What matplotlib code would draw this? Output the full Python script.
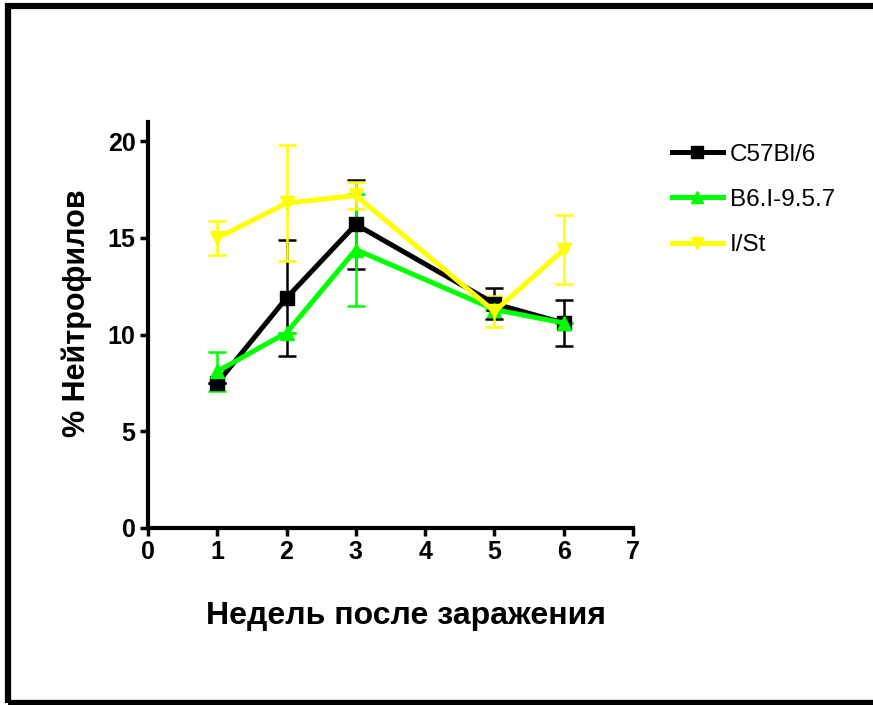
import matplotlib
matplotlib.use("Agg")
import matplotlib.pyplot as plt
from matplotlib.lines import Line2D
from matplotlib.patches import Rectangle

plt.rcParams['font.family'] = ['Liberation Sans', 'DejaVu Sans']

# weeks after infection
weeks = [1, 2, 3, 5, 6]

# % neutrophils, mean and error per strain
c57_mean = [7.5, 11.9, 15.7, 11.6, 10.6]
c57_err = [0.0, 3.0, 2.3, 0.8, 1.2]

b6_mean = [8.1, 10.1, 14.4, 11.3, 10.6]
b6_err = [1.0, 0.0, 2.9, 0.0, 0.0]

ist_mean = [15.0, 16.8, 17.2, 11.2, 14.4]
ist_err = [0.9, 3.0, 0.7, 0.8, 1.8]

labels = ['C57Bl/6', 'B6.I-9.5.7', 'I/St']
colors = ['black', '#00ff00', '#ffff00']
markers = ['s', '^', 'v']

xticks = [0, 1, 2, 3, 4, 5, 6, 7]
yticks = [0, 5, 10, 15, 20]

fig = plt.figure(figsize=(8.73, 7.05), dpi=100)
ax = fig.add_axes([0.1695, 0.2511, 0.5556, 0.5759])

series = [(c57_mean, c57_err), (b6_mean, b6_err), (ist_mean, ist_err)]
handles = []
for (m, e), lab, col, mk in zip(series, labels, colors, markers):
    ax.errorbar(weeks, m, yerr=e, color=col, lw=3.6, marker=mk, ms=10,
                elinewidth=1.8, capsize=6.5, capthick=1.8, clip_on=False)
    handles.append(Line2D([], [], color=col, lw=3.6, marker=mk, ms=8, label=lab))

ax.set_xlim(0, 7)
ax.set_ylim(0, 21)
ax.set_xticks(xticks)
ax.set_yticks(yticks)
for sp in ['top', 'right']:
    ax.spines[sp].set_visible(False)
for sp in ['left', 'bottom']:
    ax.spines[sp].set_linewidth(3)
ax.tick_params(width=2.5, length=6, direction='out', pad=3)
for t in ax.get_xticklabels() + ax.get_yticklabels():
    t.set_fontweight('bold')
    t.set_fontsize(18)

ax.set_ylabel('% Нейтрофилов', fontsize=22, fontweight='bold')
ax.yaxis.set_label_coords(-0.115, 0.53)
ax.set_xlabel('Недель после заражения', fontsize=23, fontweight='bold')
ax.xaxis.set_label_coords(0.532, -0.18)

ax.legend(handles=handles, loc='upper left', bbox_to_anchor=(1.035, 1.0),
          frameon=False, prop={'size': 17.5}, handlelength=2.1,
          handletextpad=0.3, labelspacing=0.95)

# frame around the whole figure (open on the right side)
fig.patches.append(Rectangle((0.0086, 0.0035), 1.2, 0.9880, transform=fig.transFigure,
                             fill=False, lw=4.5, edgecolor='black'))

fig.savefig('out.png', dpi=100)
